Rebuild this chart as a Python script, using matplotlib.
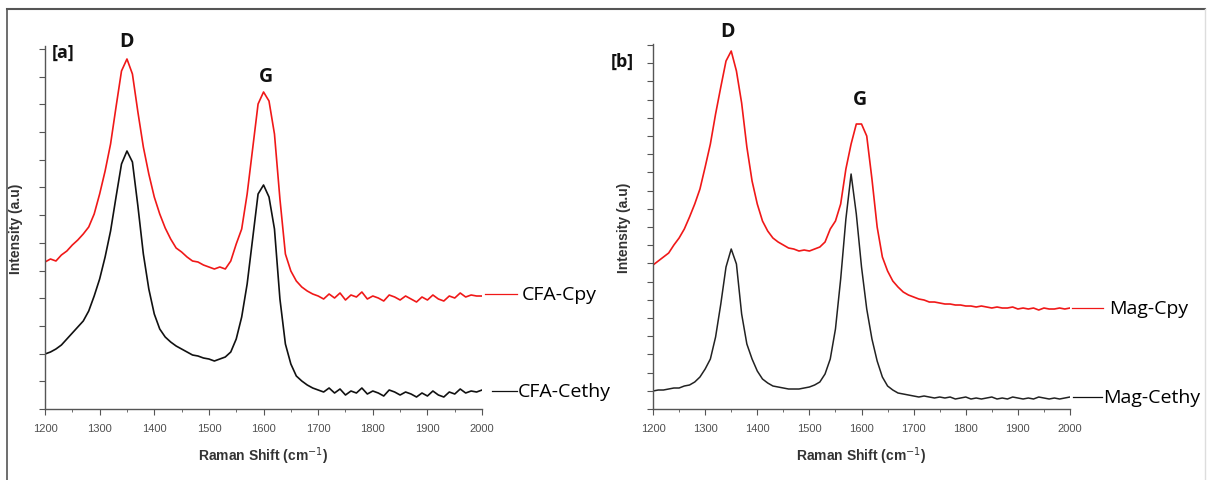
import matplotlib.pyplot as plt
from matplotlib.lines import Line2D
from matplotlib.ticker import MultipleLocator
import numpy as np

plt.rcParams['font.family'] = ['Liberation Sans', 'DejaVu Sans']

# Raman shift grid (cm^-1), one reading every 10 cm^-1
shift = np.arange(1200, 2001, 10)

# panel [a]
cfa_cpy = [147, 150, 148, 154, 158, 164, 169, 175, 182, 195,
           215, 238, 265, 302, 338, 350, 335, 297, 262, 235,
           212, 195, 181, 170, 161, 157, 152, 148, 147, 144,
           142, 140, 142, 140, 148, 165, 180, 215, 260, 305,
           317, 308, 275, 210, 155, 138, 128, 122, 118, 115,
           113, 110, 115, 111, 116, 109, 114, 112, 117, 110,
           113, 111, 108, 114, 112, 109, 113, 110, 107, 112,
           109, 114, 110, 108, 113, 111, 116, 112, 114, 113,
           113]
cfa_cethy = [55, 57, 60, 64, 70, 76, 82, 88, 98, 113,
             130, 152, 178, 212, 245, 258, 247, 203, 155, 120,
             95, 80, 72, 67, 63, 60, 57, 54, 53, 51,
             50, 48, 50, 52, 57, 70, 92, 125, 170, 215,
             224, 212, 180, 110, 65, 45, 33, 28, 24, 21,
             19, 17, 21, 16, 20, 14, 18, 16, 21, 15,
             18, 16, 13, 19, 17, 14, 17, 15, 12, 16,
             13, 18, 14, 12, 17, 15, 20, 16, 18, 17,
             19]

# panel [b]
mag_cpy = [144, 148, 152, 156, 164, 171, 180, 192, 205, 220,
           242, 265, 295, 322, 348, 358, 338, 306, 262, 228,
           205, 188, 178, 171, 167, 164, 161, 160, 158, 159,
           158, 160, 162, 167, 180, 188, 205, 240, 265, 285,
           285, 273, 230, 182, 152, 138, 128, 122, 117, 114,
           112, 110, 109, 107, 107, 106, 105, 105, 104, 104,
           103, 103, 102, 103, 102, 101, 102, 101, 101, 102,
           100, 101, 100, 101, 99, 101, 100, 100, 101, 100,
           101]
mag_cethy = [18, 19, 19, 20, 21, 21, 23, 24, 27, 32,
             40, 50, 72, 105, 142, 160, 145, 95, 65, 50,
             38, 30, 26, 23, 22, 21, 20, 20, 20, 21,
             22, 24, 27, 35, 50, 80, 130, 190, 235, 195,
             142, 100, 70, 48, 32, 23, 19, 16, 15, 14,
             13, 12, 13, 12, 11, 12, 11, 12, 10, 11,
             12, 10, 11, 10, 11, 12, 10, 11, 10, 12,
             11, 10, 11, 10, 12, 11, 10, 11, 10, 11,
             12]

RED = '#f01818'
LABEL_FONT = ['Open Sans', 'DejaVu Sans']


def style_axes(ax, ytop, ystep):
    ax.set_xlim(1200, 2000)
    ax.set_ylim(0, ytop)
    for s in ['top', 'right']:
        ax.spines[s].set_visible(False)
    for s in ['left', 'bottom']:
        ax.spines[s].set_color('#555555')
        ax.spines[s].set_linewidth(1.0)
    ax.xaxis.set_major_locator(MultipleLocator(100))
    ax.xaxis.set_minor_locator(MultipleLocator(50))
    ax.yaxis.set_major_locator(MultipleLocator(ystep))
    ax.tick_params(axis='x', which='major', length=4, color='#555555',
                   labelsize=8, labelcolor='#505050', pad=6)
    ax.tick_params(axis='x', which='minor', length=2.5, color='#555555')
    ax.tick_params(axis='y', length=4, color='#555555', labelleft=False)
    ax.set_xlabel('Raman Shift (cm$^{-1}$)', fontsize=10, fontweight='bold',
                  color='#333333', labelpad=8)
    ax.set_ylabel('Intensity (a.u)', fontsize=10, fontweight='bold',
                  color='#333333', labelpad=12)


def end_label(ax, y, x0, x1, xt, text, color):
    ax.plot([x0, x1], [y, y], color=color, lw=0.9, transform=ax.get_yaxis_transform(),
            clip_on=False)
    ax.text(xt, y, text, transform=ax.get_yaxis_transform(), fontsize=14,
            family=LABEL_FONT, va='center', ha='left', color='#000000')


def main():
    fig = plt.figure(figsize=(12.10, 4.81), dpi=100)

    # outer frame
    fig.add_artist(Line2D([7 / 1210, 1205 / 1210], [1 - 10 / 481, 1 - 10 / 481],
                          color='#555555', lw=1.5))
    fig.add_artist(Line2D([7 / 1210, 7 / 1210], [0, 1 - 10 / 481],
                          color='#555555', lw=1.2))
    fig.add_artist(Line2D([1205 / 1210, 1205 / 1210], [0, 1 - 10 / 481],
                          color='#dddddd', lw=1.0))

    ax1 = fig.add_axes([0.0372, 0.1476, 0.3612, 0.7547])
    ax2 = fig.add_axes([0.5397, 0.1476, 0.3446, 0.7588])

    ax1.plot(shift, cfa_cpy, color=RED, lw=1.2)
    ax1.plot(shift, cfa_cethy, color='#111111', lw=1.2)
    style_axes(ax1, 363, 27.7)

    ax2.plot(shift, mag_cpy, color=RED, lw=1.2)
    ax2.plot(shift, mag_cethy, color='#222222', lw=1.1)
    style_axes(ax2, 365, 18.2)

    end_label(ax1, cfa_cpy[-1] + 2, 1.007, 1.080, 1.090, 'CFA-Cpy', RED)
    end_label(ax1, cfa_cethy[-1] - 1, 1.023, 1.080, 1.082, 'CFA-Cethy', '#111111')
    end_label(ax2, mag_cpy[-1], 1.005, 1.079, 1.094, 'Mag-Cpy', RED)
    end_label(ax2, mag_cethy[-1], 1.007, 1.077, 1.080, 'Mag-Cethy', '#111111')

    kw = dict(fontsize=14, fontweight='bold', family=LABEL_FONT, ha='center',
              va='center', color='#111111', annotation_clip=False)
    ax1.annotate('D', (1350, 368), **kw)
    ax1.annotate('G', (1605, 333), **kw)
    ax2.annotate('D', (1342, 378), **kw)
    ax2.annotate('G', (1597, 310), **kw)

    ax1.text(0.041, 0.985, '[a]', transform=ax1.transAxes, fontsize=13,
             fontweight='bold', family=LABEL_FONT, ha='center', va='center',
             color='#111111')
    ax2.text(-0.074, 0.955, '[b]', transform=ax2.transAxes, fontsize=13,
             fontweight='bold', family=LABEL_FONT, ha='center', va='center',
             color='#111111')

    fig.savefig('out.png', dpi=100)


if __name__ == '__main__':
    main()
